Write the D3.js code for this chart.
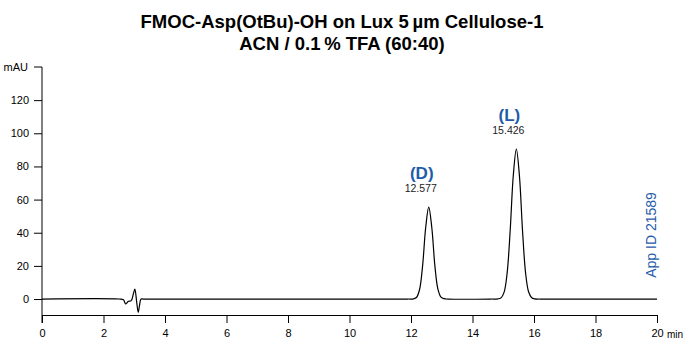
<!DOCTYPE html>
<html>
<head>
<meta charset="utf-8">
<script src="https://cdn.jsdelivr.net/npm/d3@7"></script>
<style>
  body { margin: 0; background: #fff; }
  svg { display: block; font-family: "Liberation Sans", Arial, sans-serif; }
</style>
</head>
<body>
<div id="chart"></div>
<script>
// retention time (min) and absorbance (mAU)
var times = [0, 2.5, 2.65, 2.72, 2.8, 2.9, 2.97, 3.02, 3.08, 3.13, 3.17, 3.22, 3.3, 6, 10, 11.9,
             12.077, 12.177, 12.277, 12.377, 12.477, 12.577, 12.677, 12.777, 12.877, 12.977, 13.077, 13.2,
             14.6, 14.826, 14.926, 15.026, 15.126, 15.226, 15.326, 15.426, 15.526, 15.626, 15.726, 15.826, 15.926, 16.026, 16.2,
             18, 20];
var mAU = [0, 0, -0.5, -3, -1.5, -1, 3, 6, -2, -8, -4, 0, 0, 0, 0, 0,
           0.1, 0.9, 5.6, 20, 43, 55.5, 43, 20, 5.8, 1.1, 0.2, 0,
           0, 0.1, 0.7, 4, 15.6, 41.5, 74.4, 90.5, 74.4, 41.5, 15.8, 4.2, 0.8, 0.1, 0,
           0, 0];

var xTicks = [0, 2, 4, 6, 8, 10, 12, 14, 16, 18, 20];
var yTicks = [0, 20, 40, 60, 80, 100, 120];

var peakNames = ["(D)", "(L)"];
var peakTimes = [12.577, 15.426];
var peakHeights = [55.5, 90.5];

var blue = "#1f5ca8";

var width = 686,
    height = 339;

var svg = d3.select("#chart")
    .append("svg")
    .attr("width", width)
    .attr("height", height);

var x = d3.scaleLinear().domain([0, 20]).range([42, 657]);
var y = d3.scaleLinear().domain([-10, 140]).range([315.6, 67]);

// title
svg.append("text")
    .attr("x", 342).attr("y", 28)
    .attr("text-anchor", "middle")
    .style("font-size", "18.5px").style("font-weight", "bold")
    .text("FMOC-Asp(OtBu)-OH on Lux 5\u2009\u00b5m Cellulose-1");
svg.append("text")
    .attr("x", 342).attr("y", 50)
    .attr("text-anchor", "middle")
    .style("font-size", "18.5px").style("font-weight", "bold")
    .text("ACN / 0.1\u2009% TFA (60:40)");

// y axis
var yAxis = d3.axisLeft(y)
    .tickValues(yTicks)
    .tickSize(8)
    .tickPadding(5);

var gy = svg.append("g")
    .attr("transform", "translate(" + x(0) + ",0)")
    .call(yAxis);
gy.select(".domain").remove();
gy.append("line")
    .attr("x1", 0).attr("x2", 0)
    .attr("y1", y(140)).attr("y2", 323)
    .attr("stroke", "#000");
gy.append("line")
    .attr("x1", -8).attr("x2", 0)
    .attr("y1", y(140)).attr("y2", y(140))
    .attr("stroke", "#000");
gy.append("text")
    .attr("x", -14).attr("y", y(140))
    .attr("dy", "0.32em")
    .attr("text-anchor", "end")
    .attr("fill", "#000")
    .text("mAU");
gy.selectAll("text").style("font-size", "11px");

// x axis
var xAxis = d3.axisBottom(x)
    .tickValues(xTicks)
    .tickSize(8)
    .tickPadding(6)
    .tickSizeOuter(0);

var gx = svg.append("g")
    .attr("transform", "translate(0," + 315 + ")")
    .call(xAxis);
gx.selectAll("text").style("font-size", "11px");
svg.append("text")
    .attr("x", x(20) + 10).attr("y", 338)
    .style("font-size", "10px")
    .text("min");

// trace
var points = times.map(function(t, i) { return [t, mAU[i]]; });
var line = d3.line()
    .x(function(d) { return x(d[0]); })
    .y(function(d) { return y(d[1]); })
    .curve(d3.curveCatmullRom.alpha(0.5));

svg.append("path")
    .datum(points)
    .attr("d", line)
    .attr("fill", "none")
    .attr("stroke", "#000")
    .attr("stroke-width", 1.2);

// peak labels
peakNames.forEach(function(name, i) {
    svg.append("text")
        .attr("x", x(peakTimes[i]) - 7)
        .attr("y", y(peakHeights[i]) - 28)
        .attr("text-anchor", "middle")
        .attr("fill", blue)
        .style("font-size", "17px").style("font-weight", "bold")
        .text(name);
    svg.append("text")
        .attr("x", x(peakTimes[i]) - 8)
        .attr("y", y(peakHeights[i]) - 15)
        .attr("text-anchor", "middle")
        .attr("fill", "#222")
        .style("font-size", "10.5px")
        .text(peakTimes[i].toFixed(3));
});

// app id
svg.append("text")
    .attr("transform", "translate(656,235) rotate(-90)")
    .attr("text-anchor", "middle")
    .attr("fill", blue)
    .style("font-size", "14px")
    .text("App ID 21589");
</script>
</body>
</html>
